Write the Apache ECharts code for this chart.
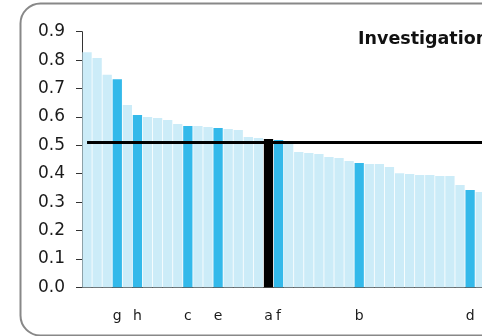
<!DOCTYPE html>
<html>
<head>
<meta charset="utf-8">
<script src="https://cdn.jsdelivr.net/npm/echarts@6/dist/echarts.min.js"></script>
<style>
html,body{margin:0;padding:0;background:#fff;}
#chart{width:482px;height:336px;}
</style>
</head>
<body>
<div id="chart"></div>
<script>
// Bar values (sorted descending)
const values = [0.828, 0.807, 0.748, 0.733, 0.642, 0.607, 0.600, 0.596, 0.589, 0.575,
                0.568, 0.568, 0.564, 0.561, 0.557, 0.554, 0.529, 0.526, 0.522, 0.519,
                0.514, 0.476, 0.473, 0.469, 0.459, 0.455, 0.445, 0.438, 0.434, 0.434,
                0.424, 0.402, 0.399, 0.395, 0.395, 0.392, 0.392, 0.360, 0.343, 0.336, null];
// Category labels (only highlighted bars are labelled)
const labels = ['', '', '', 'g', '', 'h', '', '', '', '',
                'c', '', '', 'e', '', '', '', '', 'a', 'f',
                '', '', '', '', '', '', '', 'b', '', '',
                '', '', '', '', '', '', '', '', 'd', '', ''];
const highlightBlack = 'a';
const referenceValue = 0.51;
const yTicks = [0, 0.1, 0.2, 0.3, 0.4, 0.5, 0.6, 0.7, 0.8, 0.9];
const titleText = 'Investigation';

const LIGHT = '#ccecf8', DARK = '#33b9ea', BLACK = '#000000';
const chart = echarts.init(document.getElementById('chart'), null, {renderer: 'canvas'});
const catIdx = labels.map((l, i) => i);
chart.setOption({
  animation: false,
  grid: {left: 82, top: 31.7, height: 255.6, width: 413.3, containLabel: false, outerBoundsMode: 'none'},
  xAxis: {
    type: 'category',
    data: catIdx.map(String),
    axisLine: {show: true, lineStyle: {color: '#555', width: 1}},
    axisTick: {show: false},
    axisLabel: {
      interval: 0, margin: 22.5,
      formatter: (v, i) => labels[i],
      fontFamily: 'DejaVu Sans', fontSize: 14, color: '#1a1a1a'
    },
    splitLine: {show: false}
  },
  yAxis: {
    type: 'value', min: yTicks[0], max: yTicks[yTicks.length - 1], interval: 0.1,
    axisLine: {show: true, lineStyle: {color: '#333', width: 1}},
    axisTick: {show: true, length: 6, inside: false, lineStyle: {color: '#333'}},
    axisLabel: {
      margin: 17, formatter: v => v.toFixed(1),
      fontFamily: 'DejaVu Sans', fontSize: 17, color: '#1a1a1a'
    },
    splitLine: {show: false}
  },
  series: [{
    type: 'bar',
    data: values,
    barCategoryGap: '8%',
    itemStyle: {
      color: p => labels[p.dataIndex] === highlightBlack ? BLACK : (labels[p.dataIndex] ? DARK : LIGHT)
    },
    markLine: {
      silent: true, symbol: 'none', label: {show: false},
      lineStyle: {color: '#000', width: 3, type: 'solid'},
      data: [[{xAxis: 0, yAxis: referenceValue}, {xAxis: labels.length - 1, yAxis: referenceValue}]]
    }
  }],
  graphic: [
    {type: 'rect', silent: true, z: -1,
     shape: {x: 20.5, y: 3.5, width: 620, height: 332, r: 20},
     style: {fill: 'none', stroke: '#888', lineWidth: 2}},
    {type: 'text', x: 358, y: 30.5,
     style: {text: titleText, fontFamily: 'DejaVu Sans', fontWeight: 'bold', fontSize: 17.5, fill: '#111'}}
  ]
});
</script>
</body>
</html>
